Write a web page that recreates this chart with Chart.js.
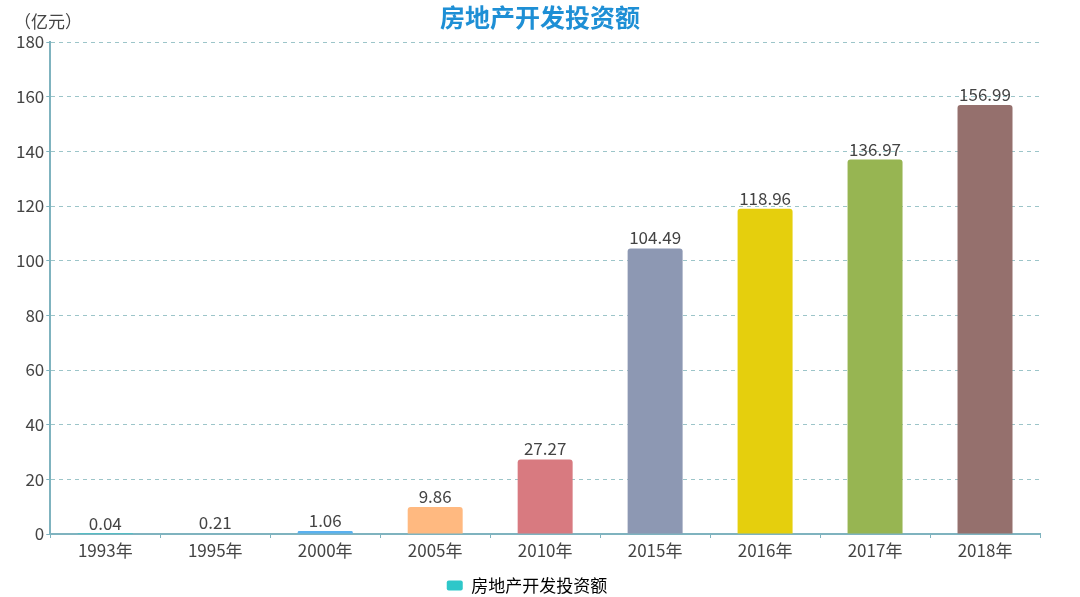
<!DOCTYPE html>
<html>
<head>
<meta charset="utf-8">
<script src="https://cdn.jsdelivr.net/npm/chart.js@4/dist/chart.umd.min.js"></script>
<style>
  html, body { margin: 0; padding: 0; background: #fff; }
</style>
</head>
<body>
<canvas id="c" width="1080" height="597"></canvas>
<script>
const years = ['1993年', '1995年', '2000年', '2005年', '2010年', '2015年', '2016年', '2017年', '2018年'];
const investment = [0.04, 0.21, 1.06, 9.86, 27.27, 104.49, 118.96, 136.97, 156.99];
const barColors = ['#2ec7c9', '#b6a2de', '#5ab1ef', '#ffb980', '#d87a80', '#8d98b3', '#e5cf0d', '#97b552', '#95706d'];
const seriesName = '房地产开发投资额';
const chartTitle = '房地产开发投资额';
const unitLabel = '（亿元）';

const FONT = '"Microsoft YaHei", "Noto Sans CJK SC", "Noto Sans", sans-serif';

// 标题、单位和柱顶数值
const extras = {
  id: 'extras',
  afterDatasetsDraw(chart) {
    const ctx = chart.ctx;
    ctx.save();
    ctx.fillStyle = '#1e8fd5';
    ctx.font = 'bold 25px ' + FONT;
    ctx.textAlign = 'center';
    ctx.textBaseline = 'middle';
    ctx.fillText(chartTitle, 540, 17);

    ctx.fillStyle = '#444';
    ctx.font = '17px ' + FONT;
    ctx.textAlign = 'left';
    ctx.fillText(unitLabel, 14, 22);

    ctx.textAlign = 'center';
    ctx.textBaseline = 'bottom';
    const meta = chart.getDatasetMeta(0);
    meta.data.forEach((bar, i) => {
      ctx.fillText(investment[i].toFixed(2), bar.x, bar.y - 2);
    });
    ctx.restore();
  }
};

new Chart(document.getElementById('c'), {
  type: 'bar',
  data: {
    labels: years,
    datasets: [{
      label: seriesName,
      data: investment,
      backgroundColor: barColors,
      borderRadius: { topLeft: 3, topRight: 3 },
      borderSkipped: 'bottom',
      barPercentage: 0.5,
      categoryPercentage: 1.0
    }]
  },
  options: {
    responsive: false,
    animation: false,
    devicePixelRatio: 1,
    layout: { padding: { top: 42, right: 40, left: 14, bottom: -7 } },
    plugins: {
      legend: {
        position: 'bottom',
        labels: {
          color: '#444',
          font: { family: FONT, size: 17 },
          boxWidth: 16,
          boxHeight: 10,
          padding: 6,
          generateLabels: () => [{
            text: seriesName,
            fillStyle: '#2ec7c9',
            strokeStyle: '#2ec7c9',
            lineWidth: 0,
            borderRadius: 2
          }]
        }
      },
      tooltip: { enabled: false }
    },
    scales: {
      x: {
        afterFit(scale) { scale.height = 37; },
        grid: {
          display: true,
          offset: true,
          drawOnChartArea: false,
          drawTicks: true,
          tickLength: 4,
          color: '#7fb3bf'
        },
        border: { color: '#7fb3bf', width: 2 },
        ticks: {
          color: '#444',
          font: { family: FONT, size: 17 },
          padding: 2
        }
      },
      y: {
        min: 0,
        max: 180,
        grid: {
          color: '#9cc5c9',
          tickLength: 4,
          tickColor: '#7fb3bf'
        },
        border: { color: '#7fb3bf', width: 2, dash: [4, 4] },
        ticks: {
          stepSize: 20,
          color: '#444',
          font: { family: FONT, size: 17 },
          padding: 2
        }
      }
    }
  },
  plugins: [extras]
});
</script>
</body>
</html>
